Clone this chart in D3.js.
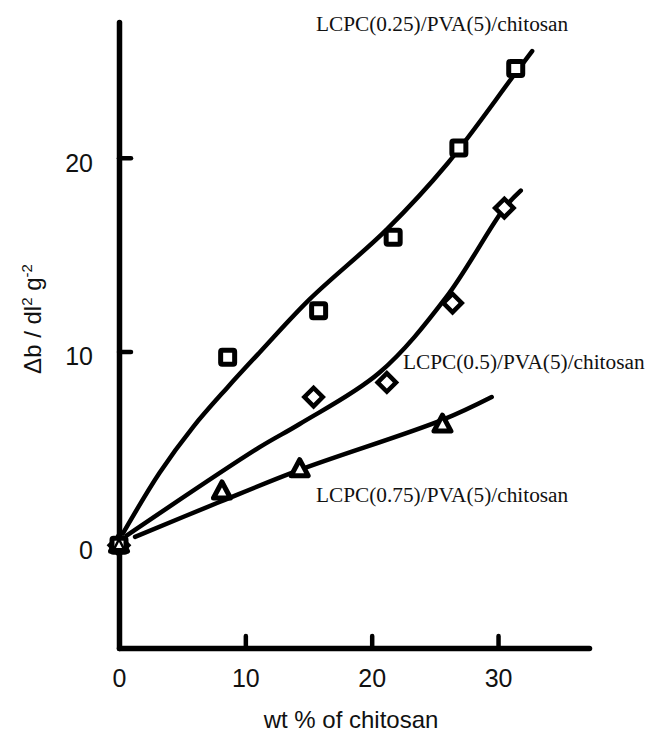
<!DOCTYPE html>
<html>
<head>
<meta charset="utf-8">
<script src="https://cdn.jsdelivr.net/npm/d3@7"></script>
<style>
  body { margin: 0; background: #fff; }
  svg { display: block; }
</style>
</head>
<body>
<svg id="chart" width="647" height="733"></svg>
<script>
// measured points (wt % chitosan, delta b)
const squarePts = [[0, 0], [8.6, 9.7], [15.8, 12.1], [21.7, 15.9], [26.9, 20.5], [31.4, 24.6]];
const diamondPts = [[0, 0], [15.4, 7.65], [21.2, 8.4], [26.4, 12.5], [30.5, 17.4]];
const trianglePts = [[0, 0], [8.15, 2.75], [14.3, 3.9], [25.6, 6.2]];

// hand drawn fit curves
const squareFit = [[0.3, 0.6], [3.2, 3.73], [5.86, 6.1], [8.55, 8.12], [11.2, 10.0], [15.1, 12.7], [21.2, 16.3], [26.0, 19.7], [31.2, 24.2], [32.7, 25.5]];
const diamondFit = [[0.6, 0.5], [11.1, 5.05], [14.3, 6.26], [20.6, 8.9], [25.9, 12.8], [30.5, 17.4], [31.8, 18.3]];
const triangleFit = [[1.27, 0.43], [7.76, 2.18], [14.3, 3.89], [25.6, 6.47], [29.5, 7.65]];

const xTicks = [0, 10, 20, 30];
const yTicks = [0, 10, 20];
const seriesLabels = ["LCPC(0.25)/PVA(5)/chitosan", "LCPC(0.5)/PVA(5)/chitosan", "LCPC(0.75)/PVA(5)/chitosan"];

const svg = d3.select("#chart");

const x = d3.scaleLinear().domain([0, 37.2]).range([119, 589]);
const y = d3.scaleLinear().domain([-5.3, 27]).range([648, 22]);

const sans = "'Liberation Sans', Arial, sans-serif";
const serif = "'Liberation Serif', 'Times New Roman', serif";

// axes
const xAxis = svg.append("g")
  .attr("transform", `translate(0,${y(-5.3)})`)
  .call(d3.axisBottom(x).tickValues(xTicks).tickSize(-12).tickSizeOuter(0).tickPadding(21).tickFormat(d3.format("d")));
const yAxis = svg.append("g")
  .attr("transform", `translate(${x(0)},0)`)
  .call(d3.axisLeft(y).tickValues(yTicks).tickSize(-12).tickSizeOuter(0).tickPadding(26).tickFormat(d3.format("d")));

[xAxis, yAxis].forEach(a => {
  a.select(".domain").attr("stroke", "#000").attr("stroke-width", 5.5).attr("stroke-linecap", "round");
  a.selectAll(".tick line").attr("stroke", "#000").attr("stroke-width", 4.5).attr("stroke-linecap", "round");
  a.selectAll(".tick text").attr("font-family", sans).attr("font-size", 25).attr("fill", "#111");
});
xAxis.selectAll(".tick").filter(d => d === 0).select("line").remove();
yAxis.selectAll(".tick").filter(d => d === 0).select("line").remove();
yAxis.selectAll(".tick text").attr("dy", "0.54em");

// axis titles
svg.append("text")
  .attr("x", (265 + 437) / 2)
  .attr("y", 728)
  .attr("text-anchor", "middle")
  .attr("font-family", sans)
  .attr("font-size", 24)
  .attr("fill", "#111")
  .text("wt % of chitosan");

const yTitle = svg.append("text")
  .attr("transform", "translate(41,319) rotate(-90)")
  .attr("text-anchor", "middle")
  .attr("font-family", sans)
  .attr("font-size", 24)
  .attr("fill", "#111");
yTitle.append("tspan").text("\u0394b  /  dl");
yTitle.append("tspan").attr("font-size", 15).attr("dy", -9).text("2");
yTitle.append("tspan").attr("dy", 9).text(" g");
yTitle.append("tspan").attr("font-size", 15).attr("dy", -9).text("-2");

// fit curves
const line = d3.line().x(d => x(d[0])).y(d => y(d[1])).curve(d3.curveCatmullRom.alpha(0.5));
[squareFit, diamondFit, triangleFit].forEach(pts => {
  svg.append("path")
    .attr("d", line(pts))
    .attr("fill", "none")
    .attr("stroke", "#000")
    .attr("stroke-width", 4.5)
    .attr("stroke-linecap", "round")
    .attr("stroke-linejoin", "round");
});

// markers
svg.append("g").selectAll("polygon")
  .data(trianglePts)
  .join("polygon")
  .attr("points", d => {
    const cx = x(d[0]), cy = y(d[1]);
    return `${cx},${cy - 10} ${cx + 8.5},${cy + 6} ${cx - 8.5},${cy + 6}`;
  })
  .attr("fill", "#fff")
  .attr("stroke", "#000")
  .attr("stroke-width", 5)
  .attr("stroke-linejoin", "round");

svg.append("g").selectAll("rect")
  .data(diamondPts)
  .join("rect")
  .attr("x", -6.5).attr("y", -6.5)
  .attr("width", 13).attr("height", 13)
  .attr("transform", d => `translate(${x(d[0])},${y(d[1])}) rotate(45)`)
  .attr("fill", "#fff")
  .attr("stroke", "#000")
  .attr("stroke-width", 4.5);

svg.append("g").selectAll("rect")
  .data(squarePts)
  .join("rect")
  .attr("x", d => x(d[0]) - 7)
  .attr("y", d => y(d[1]) - 7)
  .attr("width", 14).attr("height", 14)
  .attr("rx", 1.5)
  .attr("fill", "#fff")
  .attr("stroke", "#000")
  .attr("stroke-width", 5);

// keep the origin triangle visible on top like in the figure
svg.append("polygon")
  .attr("points", `${x(0)},${y(0) - 6} ${x(0) + 5},${y(0) + 4} ${x(0) - 5},${y(0) + 4}`)
  .attr("fill", "#fff")
  .attr("stroke", "#000")
  .attr("stroke-width", 2.5);

// series labels
const labelPos = [[316, 31], [403, 369], [316, 502]];
seriesLabels.forEach((t, i) => {
  svg.append("text")
    .attr("x", labelPos[i][0])
    .attr("y", labelPos[i][1])
    .attr("font-family", serif)
    .attr("font-size", 21.3)
    .attr("fill", "#111")
    .text(t);
});
</script>
</body>
</html>
